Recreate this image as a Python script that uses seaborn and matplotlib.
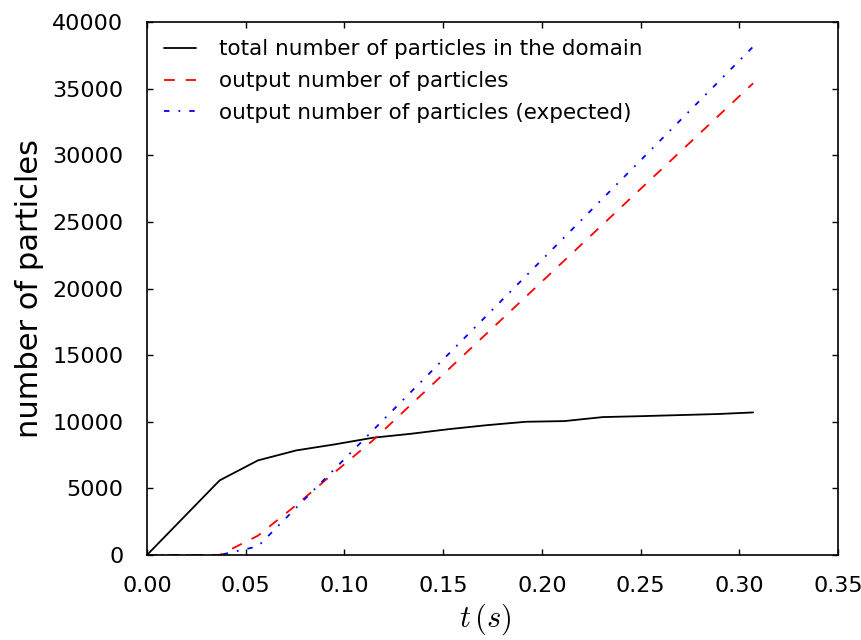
import matplotlib
matplotlib.use("Agg")
import matplotlib.pyplot as plt
import seaborn as sns
import pandas as pd

# sampling times (s)
t = [0.0, 0.0184, 0.0368, 0.0562, 0.0756, 0.095, 0.1144, 0.1338, 0.1532,
     0.1726, 0.192, 0.2114, 0.2308, 0.2502, 0.2696, 0.289, 0.307]

total_in_domain = [0, 2800, 5600, 7100, 7850, 8300, 8800, 9100, 9450,
                   9750, 10000, 10050, 10350, 10420, 10500, 10580, 10700]
output_count = [0, 0, 0, 1450, 3750, 6200, 8600, 11300, 14000,
                16700, 19400, 22100, 24800, 27500, 30200, 32900, 35400]
output_expected = [0, 0, 0, 650, 3550, 6450, 9350, 12250, 15150,
                   18050, 20950, 23850, 26750, 29650, 32550, 35450, 38150]

labels = ["total number of particles in the domain",
          "output number of particles",
          "output number of particles (expected)"]

sns.set_style("white", {
    "xtick.direction": "in", "ytick.direction": "in",
    "xtick.top": True, "ytick.right": True,
    "xtick.bottom": True, "ytick.left": True,
    "axes.edgecolor": "black",
    "text.color": "black", "axes.labelcolor": "black",
    "xtick.color": "black", "ytick.color": "black",
})
plt.rcParams["font.family"] = ["DejaVu Sans"]
plt.rcParams["mathtext.fontset"] = "cm"

fig = plt.figure(figsize=(8.61, 6.40), dpi=100)
ax = fig.add_axes([0.1707, 0.1328, 0.8026, 0.8328])

df = pd.DataFrame({"t": t, "total": total_in_domain,
                   "out": output_count, "exp": output_expected})

sns.lineplot(data=df, x="t", y="total", ax=ax, color="black", lw=1.3,
             label=labels[0])
sns.lineplot(data=df, x="t", y="out", ax=ax, color="red", lw=1.3,
             label=labels[1], linestyle=(0, (6, 6)))
sns.lineplot(data=df, x="t", y="exp", ax=ax, color="blue", lw=1.3,
             label=labels[2], linestyle=(0, (3, 5, 1, 5)))

ax.set_xlim(0, 0.35)
ax.set_ylim(0, 40000)
ax.set_xticks([0.0, 0.05, 0.10, 0.15, 0.20, 0.25, 0.30, 0.35])
ax.set_xticklabels(["0.00", "0.05", "0.10", "0.15", "0.20", "0.25", "0.30", "0.35"])
ax.set_yticks(range(0, 40001, 5000))
ax.tick_params(axis="both", which="major", direction="in", length=4.5, width=1,
               labelsize=16, top=True, right=True, colors="black")
ax.tick_params(axis="y", pad=17)
ax.tick_params(axis="x", pad=15)
for s in ax.spines.values():
    s.set_linewidth(1.2)
    s.set_color("black")

ax.set_xlabel(r"$t\,(s)$", fontsize=22)
ax.xaxis.set_label_coords(0.49, -0.088)
ax.set_ylabel("number of particles", fontsize=22, labelpad=6)

leg = ax.legend(loc="upper left", frameon=False, fontsize=15.5,
                handlelength=1.5, handletextpad=1.05, labelspacing=0.55,
                borderpad=0.35, borderaxespad=0.45)
for txt in leg.get_texts():
    txt.set_color("black")

fig.savefig("out.png", dpi=100)
